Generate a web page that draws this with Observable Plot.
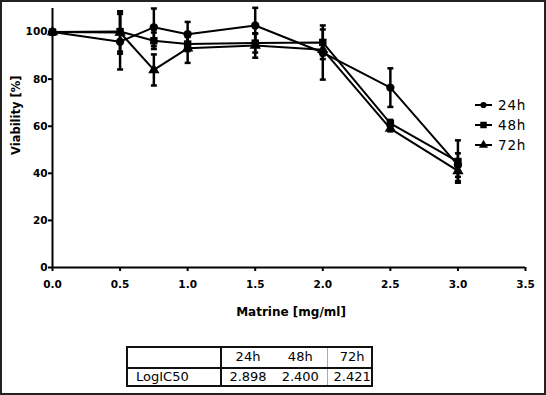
<!DOCTYPE html>
<html><head><meta charset="utf-8">
<script src="https://cdn.jsdelivr.net/npm/d3@7"></script>
<script src="https://cdn.jsdelivr.net/npm/@observablehq/plot@0.6"></script>
<style>
html,body{margin:0;padding:0;background:#fff;}
#wrap{position:relative;width:546px;height:395px;overflow:hidden;background:#fff;}
#frame{position:absolute;left:0;top:0;width:546px;height:395px;box-sizing:border-box;border:2px solid #222;pointer-events:none;}
#chart{position:absolute;left:0;top:0;}
#legend{position:absolute;left:475px;top:95px;font:13.5px "DejaVu Sans",sans-serif;color:#000;}
.lrow{height:20px;display:flex;align-items:center;}
.lrow span{margin-left:6px;letter-spacing:0.8px;}
#tbl{position:absolute;left:126px;top:346px;border-collapse:collapse;font:13px "DejaVu Sans",sans-serif;color:#000;border:2px solid #111;table-layout:fixed;}
#tbl td{padding:0;text-align:center;box-sizing:border-box;}
#tbl tr.r1 td{line-height:17px;height:17px;padding-bottom:2px;border-bottom:2px solid #111;}
#tbl tr.r2 td{line-height:15px;height:15px;padding-bottom:1px;}
#tbl td.c0{width:94px;text-align:left;padding-left:8px;border-right:2px solid #111;}
#tbl td.c1{width:53px;}
#tbl td.c2{width:53px;border-right:1px solid #aaa;}
#tbl td.c3{width:44px;padding-left:6px;}
</style>
</head><body>
<div id="wrap">
  <div id="chart"></div>
  <div id="legend"></div>
  <table id="tbl"></table>
  <div id="frame"></div>
</div>
<script>
const conc = [0, 0.5, 0.75, 1.0, 1.5, 2.0, 2.5, 3.0];
const series = ["24h", "48h", "72h"];
const symbols = ["circle", "square", "triangle"];
const v24  = [100, 95.9, 102.0, 99.1, 102.8, 91.3, 76.4, 43.5];
const sd24 = [0, 11.8, 8.0, 5.2, 7.5, 11.5, 8.2, 5.0];
const v48  = [100, 100.2, 96.3, 94.9, 95.3, 95.6, 61.2, 45.0];
const sd48 = [0, 8.5, 3.5, 3.0, 4.0, 5.5, 1.5, 9.0];
const v72  = [100, 99.8, 83.9, 93.1, 94.3, 92.5, 59.0, 41.0];
const sd72 = [0, 9.0, 6.6, 6.2, 5.2, 4.0, 1.2, 4.3];
const yTicks = [0, 20, 40, 60, 80, 100];
const xTicks = [0, 0.5, 1.0, 1.5, 2.0, 2.5, 3.0, 3.5];
const tableHeader = ["", "24h", "48h", "72h"];
const tableRow = ["LogIC50", "2.898", "2.400", "2.421"];
const xTitle = "Matrine [mg/ml]";
const yTitle = "Viability [%]";

const vals = [[v24, sd24], [v48, sd48], [v72, sd72]];
const rows = vals.flatMap(([v, s], k) => conc.map((c, i) => ({series: series[k], x: c, y: v[i], sd: s[i]})));
const errs = rows.filter(d => d.sd > 0);
const caps = errs.flatMap(d => [{x: d.x, y: d.y - d.sd}, {x: d.x, y: d.y + d.sd}]);
const hline = {draw(ctx, size) { const r = Math.sqrt(size / Math.PI); ctx.moveTo(-r, 0); ctx.lineTo(r, 0); }};

const fam = "DejaVu Sans, sans-serif";
const chart = Plot.plot({
  width: 546, height: 330,
  marginLeft: 52, marginRight: 21, marginTop: 8, marginBottom: 63,
  style: {background: "transparent", fontFamily: fam, fontSize: "10px", color: "#000"},
  x: {domain: [0, 3.5]},
  y: {domain: [0, 110]},
  symbol: {domain: series, range: symbols},
  marks: [
    Plot.ruleX(errs, {x: "x", y1: d => d.y - d.sd, y2: d => d.y + d.sd, stroke: "#000", strokeWidth: 2.5}),
    Plot.dot(caps, {x: "x", y: "y", symbol: hline, r: 3, stroke: "#000", strokeWidth: 2.5, fill: "none"}),
    Plot.line(rows, {x: "x", y: "y", z: "series", stroke: "#000", strokeWidth: 2}),
    Plot.dot(rows, {x: "x", y: "y", symbol: "series", r: 4.2, fill: "#000", stroke: "none"}),
    Plot.axisY({ticks: yTicks, tickSize: 4, tickPadding: 1, label: null, fontWeight: "bold", fontSize: 10.5, strokeWidth: 2}),
    Plot.axisX({ticks: xTicks, tickFormat: d3.format(".1f"), tickSize: 4, tickPadding: 9, label: null, fontWeight: "bold", fontSize: 10.5, strokeWidth: 2}),
    Plot.ruleX([0], {stroke: "#000", strokeWidth: 2}),
    Plot.ruleY([0], {stroke: "#000", strokeWidth: 2}),
    Plot.text([xTitle], {text: d => d, frameAnchor: "bottom", dx: 2, dy: 48, lineAnchor: "bottom", fontWeight: "bold", fontSize: 12}),
    Plot.text([yTitle], {text: d => d, frameAnchor: "left", rotate: -90, dx: -36, dy: 17, fontWeight: "bold", fontSize: 11.5})
  ]
});
document.getElementById("chart").appendChild(chart);

// legend
const legend = d3.select("#legend");
const symMap = {circle: d3.symbolCircle, square: d3.symbolSquare, triangle: d3.symbolTriangle};
const symSize = {circle: 30, square: 42, triangle: 36};
series.forEach((s, k) => {
  const row = legend.append("div").attr("class", "lrow");
  const svg = row.append("svg").attr("width", 17).attr("height", 12);
  svg.append("line").attr("x1", 0).attr("x2", 17).attr("y1", 6).attr("y2", 6).attr("stroke", "#000").attr("stroke-width", 2);
  svg.append("path").attr("transform", "translate(8.5,6)").attr("d", d3.symbol(symMap[symbols[k]], symSize[symbols[k]])()).attr("fill", "#000");
  row.append("span").text(s);
});

// table
const tbl = d3.select("#tbl");
const r1 = tbl.append("tr").attr("class", "r1");
tableHeader.forEach((t, i) => r1.append("td").attr("class", "c" + i).text(t));
const r2 = tbl.append("tr").attr("class", "r2");
tableRow.forEach((t, i) => r2.append("td").attr("class", "c" + i).text(t));
</script>
</body></html>
